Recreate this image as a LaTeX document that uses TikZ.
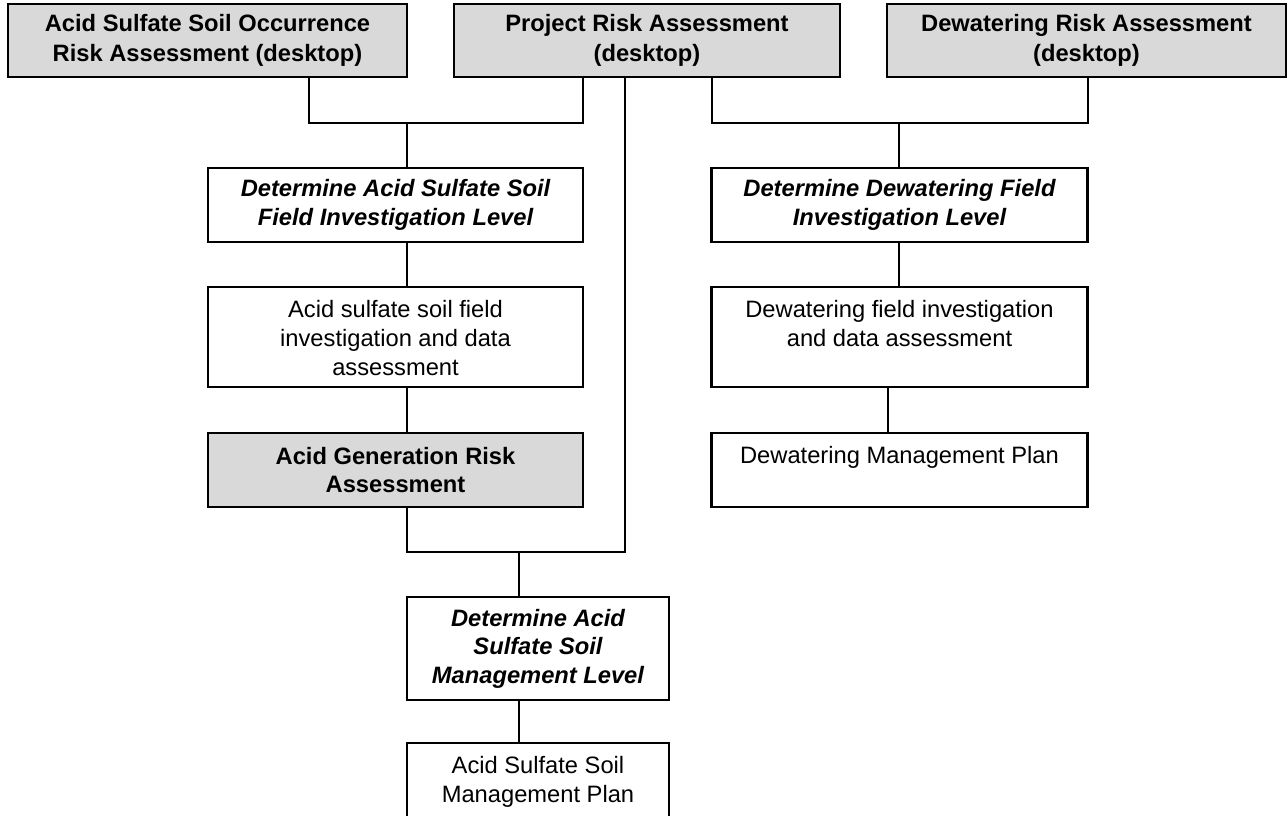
\documentclass[tikz,border=0pt]{standalone}
\usepackage{fontspec}
\setmainfont{Liberation Sans}
\definecolor{boxgray}{RGB}{217,217,217}
\begin{document}
\begin{tikzpicture}[x=1pt,y=1pt,
  box/.style={draw=black, line width=2.4pt, inner sep=0pt, rectangle, fill=white},
  graybox/.style={box, fill=boxgray},
  boldtxt/.style={font=\fontsize{23.7}{30.5}\selectfont\bfseries, align=center},
  bitxt/.style={font=\fontsize{23.7}{28.5}\selectfont\bfseries\itshape, align=center},
  plaintxt/.style={font=\fontsize{23.7}{28.8}\selectfont, align=center, inner sep=0pt, anchor=north},
  conn/.style={draw=black, line width=2.4pt}]
\clip (0,0) rectangle (1287,-816);
\fill[white] (0,0) rectangle (1287,-816);
% top row
\node[graybox, boldtxt, minimum width=399pt, minimum height=73pt] (A) at (207.5,-40.5) {Acid Sulfate Soil Occurrence\\Risk Assessment (desktop)};
\node[graybox, boldtxt, minimum width=386pt, minimum height=73pt] (B) at (647,-40.5) {Project Risk Assessment\\(desktop)};
\node[graybox, boldtxt, minimum width=399pt, minimum height=73pt] (C) at (1086.5,-40.5) {Dewatering Risk Assessment\\(desktop)};
% left column
\node[box, bitxt, minimum width=375pt, minimum height=74pt] (D) at (395.5,-205) {Determine Acid Sulfate Soil\\Field Investigation Level};
\node[box, minimum width=375pt, minimum height=100pt] (F) at (395.5,-337) {};
\node[plaintxt] (Ft) at ([yshift=-14.7pt]F.north) {Acid sulfate soil field\\investigation and data\\assessment};
\node[graybox, boldtxt, minimum width=375pt, minimum height=74pt, font=\fontsize{23.7}{28.5}\selectfont\bfseries] (G) at (395.5,-470) {Acid Generation Risk\\Assessment};
% right column
\node[box, bitxt, minimum width=376pt, minimum height=74pt] (E) at (899.5,-205) {Determine Dewatering Field\\Investigation Level};
\node[box, minimum width=376pt, minimum height=100pt] (Fr) at (899.5,-337) {};
\node[plaintxt] (Frt) at ([yshift=-14.7pt]Fr.north) {Dewatering field investigation\\and data assessment};
\node[box, minimum width=376pt, minimum height=74pt] (Dm) at (899.5,-470) {};
\node[plaintxt] (Dmt) at ([yshift=-14.2pt]Dm.north) {Dewatering Management Plan};
% bottom column
\node[box, bitxt, minimum width=262pt, minimum height=103pt] (H) at (538,-648.5) {Determine Acid\\Sulfate Soil\\Management Level};
\node[box, minimum width=262pt, minimum height=94pt] (I) at (538,-790) {};
\node[plaintxt] (It) at ([yshift=-14.7pt]I.north) {Acid Sulfate Soil\\Management Plan};
% junction coordinates
\coordinate (xa) at (309,0);
\coordinate (xb) at (712,0);
\coordinate (xf) at (888,0);
\coordinate (jL) at (583,-123);
\coordinate (jA) at (407,-123);
\coordinate (jR) at (1088,-123);
\coordinate (jE) at (899,-123);
\coordinate (jM) at (625,-552);
\coordinate (jH) at (519,-552);
% connectors
\draw[conn] (A.south -| xa) |- (jL) -- (B.south -| jL);
\draw[conn] (jA) -- (D.north -| jA);
\draw[conn] (B.south -| xb) |- (jR) -- (C.south -| jR);
\draw[conn] (jE) -- (E.north -| jE);
\draw[conn] (G.south -| jA) |- (jM) -- (B.south -| jM);
\draw[conn] (jH) -- (H.north -| jH);
\draw[conn] (D.south -| jA) -- (F.north -| jA);
\draw[conn] (F.south -| jA) -- (G.north -| jA);
\draw[conn] (E.south -| jE) -- (Fr.north -| jE);
\draw[conn] (Fr.south -| xf) -- (Dm.north -| xf);
\draw[conn] (H.south -| jH) -- (I.north -| jH);
\end{tikzpicture}
\end{document}
